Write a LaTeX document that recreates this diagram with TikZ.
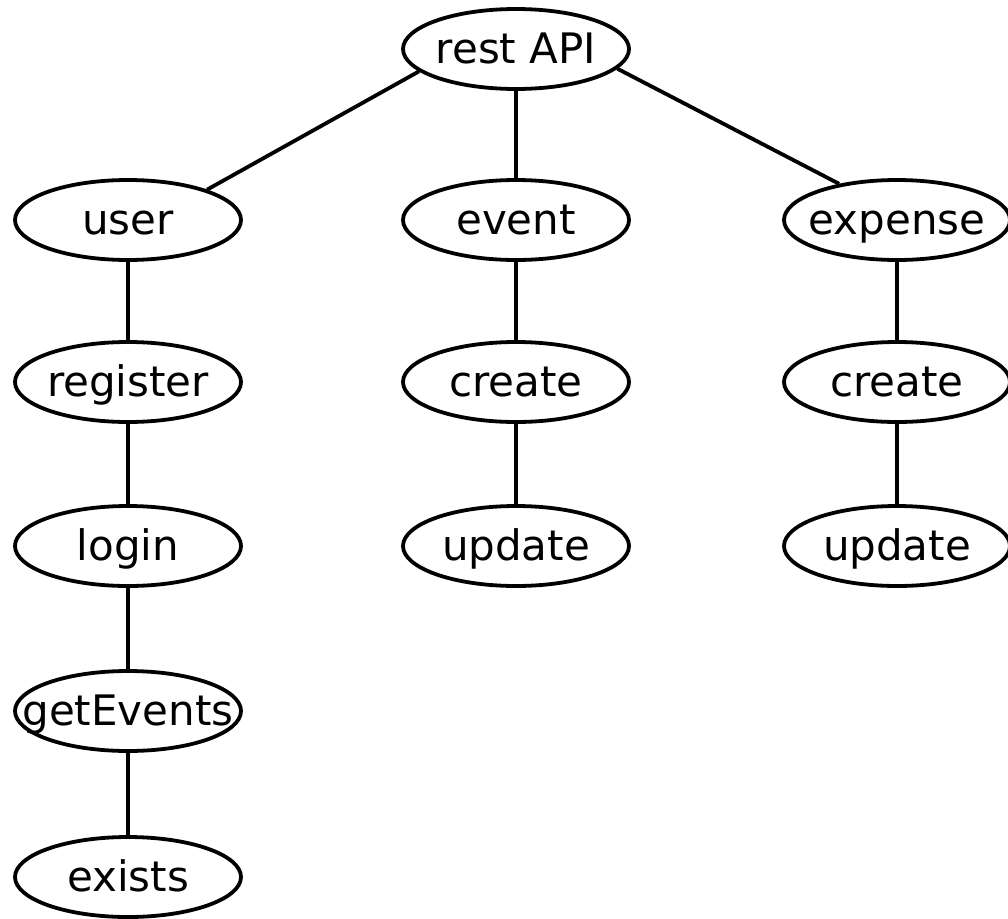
\documentclass[tikz,border=0pt]{standalone}
\usepackage{fontspec}
\setmainfont{DejaVu Sans}
\usetikzlibrary{shapes.geometric}
\newcommand{\zw}[1]{\makebox[0pt][c]{#1}}
\begin{document}
\begin{tikzpicture}[x=1pt,y=-1pt,
  nd/.style={ellipse,draw,line width=3.8pt,minimum width=226pt,minimum height=80pt,inner sep=0pt,text height=31pt,text depth=3pt,font=\fontsize{42}{48}\selectfont},
  ed/.style={line width=3.8pt}]
\useasboundingbox (0,0) rectangle (1008,918);
\node[nd] (api) at (516,49) {\zw{rest API}};
\node[nd] (user) at (128,220) {\zw{user}};
\node[nd] (event) at (516,220) {\zw{event}};
\node[nd] (expense) at (897,220) {\zw{expense}};
\node[nd] (register) at (128,382) {\zw{register}};
\node[nd] (create1) at (516,382) {\zw{create}};
\node[nd] (create2) at (897,382) {\zw{create}};
\node[nd] (login) at (128,546) {\zw{login}};
\node[nd] (update1) at (516,546) {\zw{update}};
\node[nd] (update2) at (897,546) {\zw{update}};
\node[nd] (getevents) at (128,711) {\zw{getEvents}};
\node[nd] (exists) at (128,877) {\zw{exists}};
\draw[ed] (api.193) -- (user.21);
\draw[ed] (api) -- (event);
\draw[ed] (api.349) -- (expense.148);
\draw[ed] (user) -- (register);
\draw[ed] (register) -- (login);
\draw[ed] (login) -- (getevents);
\draw[ed] (getevents) -- (exists);
\draw[ed] (event) -- (create1);
\draw[ed] (create1) -- (update1);
\draw[ed] (expense) -- (create2);
\draw[ed] (create2) -- (update2);
\end{tikzpicture}
\end{document}
